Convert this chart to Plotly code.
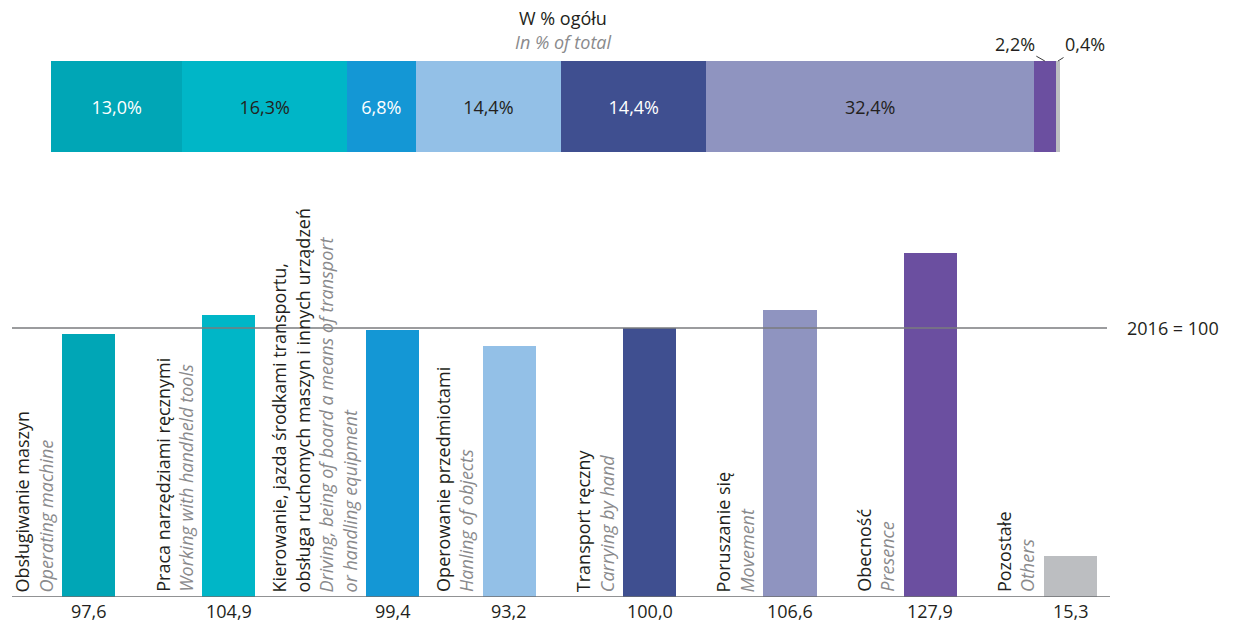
import plotly.graph_objects as go

# ---------------- data ----------------
categories_pl = [
    "Obsługiwanie maszyn",
    "Praca narzędziami ręcznymi",
    "Kierowanie, jazda środkami transportu,\nobsługa ruchomych maszyn i innych urządzeń",
    "Operowanie przedmiotami",
    "Transport ręczny",
    "Poruszanie się",
    "Obecność",
    "Pozostałe",
]
categories_en = [
    "Operating machine",
    "Working with handheld tools",
    "Driving, being of board a means of transport\nor handling equipment",
    "Hanling of objects",
    "Carrying by hand",
    "Movement",
    "Presence",
    "Others",
]
index_2016_100 = [97.6, 104.9, 99.4, 93.2, 100.0, 106.6, 127.9, 15.3]
share_pct = [13.0, 16.3, 6.8, 14.4, 14.4, 32.4, 2.2, 0.4]

# ---------------- styles ----------------
colors = ["#00A6B6", "#00B6C7", "#1497D5", "#93C0E7", "#3F4F90", "#8F94C0", "#6B4FA0", "#BCBEC1"]
share_text_colors = ["white", "#231F20", "white", "#231F20", "white", "#231F20", "#231F20", "#231F20"]
FONT = "Open Sans"
DARK = "#231F20"
GREY = "#8A8A8C"
W, H = 1235, 623
bar_w = 0.378
slot_shift = [0, 0, 0.17, 0, 0, 0, 0, 0]  # layout nudge for the long 3rd label


def fmt(v, pct=False):
    s = f"{v:.1f}".replace(".", ",")
    return s + ("%" if pct else "")


fig = go.Figure()

# ---------- bottom: index bars ----------
n = len(index_2016_100)
pos = list(range(n))
fig.add_trace(go.Bar(
    x=pos, y=index_2016_100,
    width=bar_w,
    offset=[-bar_w / 2 + s for s in slot_shift],
    marker=dict(color=colors, line=dict(width=0)),
    hoverinfo="skip", showlegend=False,
    xaxis="x", yaxis="y",
))

# ---------- top: stacked share bar ----------
cum = 0.0
for i, v in enumerate(share_pct):
    inside = v >= 5
    fig.add_trace(go.Bar(
        x=[v], y=[0], orientation="h",
        marker=dict(color=colors[i], line=dict(width=0)),
        text=[fmt(v, True)] if inside else None,
        textposition="inside" if inside else "none",
        insidetextanchor="middle",
        textfont=dict(family=FONT, size=18, color=share_text_colors[i]),
        hoverinfo="skip", showlegend=False,
        xaxis="x2", yaxis="y2",
    ))
    if not inside:
        fig.add_annotation(
            x=cum + v / 2, y=0.5, xref="x2", yref="y2",
            text=fmt(v, True), showarrow=True, arrowhead=0, arrowwidth=1,
            arrowcolor="#3a3a3a", standoff=0,
            ax=-30 if i == n - 2 else 27, ay=-17,
            font=dict(family=FONT, size=18, color=DARK),
        )
    cum += v

for i in range(n):
    pl_lines = categories_pl[i].split("\n")
    en_lines = categories_en[i].split("\n")
    parts = [f"<span style='color:{DARK}'>{t}</span>" for t in pl_lines]
    parts += [f"<i><span style='color:{GREY}'>{t}</span></i>" for t in en_lines]
    xc = pos[i] + slot_shift[i]
    fig.add_annotation(
        x=xc - bar_w / 2, y=0, xref="x", yref="y",
        text="<br>".join(parts), textangle=-90, showarrow=False,
        xanchor="right", yanchor="bottom", align="left",
        xshift=-3, yshift=3,
        font=dict(family=FONT, size=18, color=DARK),
    )
    fig.add_annotation(
        x=xc, y=0, xref="x", yref="y",
        text=fmt(index_2016_100[i]), showarrow=False,
        xanchor="center", yanchor="top", yshift=0,
        font=dict(family=FONT, size=18, color=DARK),
    )

fig.add_annotation(x=1125 / W, y=100, xref="paper", yref="y", text="2016 = 100",
                   showarrow=False, xanchor="left", yanchor="middle",
                   font=dict(family=FONT, size=18, color=DARK))
fig.add_annotation(x=563 / W, y=(H - 18) / H, xref="paper", yref="paper", text="W % ogółu",
                   showarrow=False, xanchor="center", yanchor="middle",
                   font=dict(family=FONT, size=18, color=DARK))
fig.add_annotation(x=563 / W, y=(H - 42) / H, xref="paper", yref="paper", text="<i>In % of total</i>",
                   showarrow=False, xanchor="center", yanchor="middle",
                   font=dict(family=FONT, size=18, color=GREY))

fig.add_shape(type="line", xref="paper", yref="y", x0=12 / W, x1=1110 / W, y0=0, y1=0,
              line=dict(color="#6D6E71", width=1.3), layer="above")
fig.add_shape(type="line", xref="paper", yref="y", x0=12 / W, x1=1107 / W, y0=100, y1=100,
              line=dict(color="#7A7B7E", width=1.5), layer="above")

fig.update_layout(
    width=W, height=H,
    margin=dict(l=0, r=0, t=0, b=0),
    paper_bgcolor="white", plot_bgcolor="white",
    barmode="stack", bargap=0,
    font=dict(family=FONT, size=18, color=DARK),
    xaxis=dict(domain=[0, 1], range=[-88.5 / 140.3, (W - 88.5) / 140.3], visible=False, fixedrange=True),
    yaxis=dict(domain=[26 / H, 453 / H], range=[0, 427 / 2.69], visible=False, fixedrange=True),
    xaxis2=dict(domain=[51 / W, 1061 / W], range=[0, 100], visible=False, anchor="y2"),
    yaxis2=dict(domain=[(H - 152) / H, (H - 61) / H], range=[-0.5, 0.5], visible=False, anchor="x2"),
)

fig.write_html(
    "out.html",
    config={"displayModeBar": False, "staticPlot": True},
    post_script="document.body.style.margin='0';document.body.style.overflow='hidden';",
)
